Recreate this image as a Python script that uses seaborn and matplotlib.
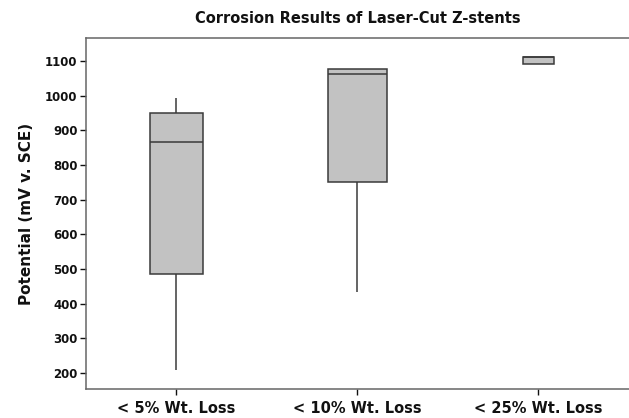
import matplotlib
matplotlib.use("Agg")
import matplotlib.pyplot as plt
import seaborn as sns
import pandas as pd

# Five-number summaries per weight-loss group (min, Q1, median, Q3, max), mV v. SCE
groups = ["< 5% Wt. Loss", "< 10% Wt. Loss", "< 25% Wt. Loss"]
loss_5 = [209, 485, 866, 951, 992]
loss_10 = [434, 750, 1062, 1076, 1076]
loss_25 = [1091, 1091, 1110, 1111, 1111]
box_widths = [0.29, 0.33, 0.175]

sns.set_style("white")
plt.rcParams["font.family"] = ["DejaVu Sans"]
plt.rcParams["text.color"] = "#111111"
plt.rcParams["axes.labelcolor"] = "#111111"
plt.rcParams["xtick.color"] = "#111111"
plt.rcParams["ytick.color"] = "#111111"

fig = plt.figure(figsize=(6.29, 4.18), dpi=100)
ax = fig.add_axes([0.1367, 0.0694, 0.8633, 0.8397])

edge = "#3a3a3a"
for name, vals, w in zip(groups, [loss_5, loss_10, loss_25], box_widths):
    df = pd.DataFrame({"group": [name] * len(vals), "potential": vals})
    sns.boxplot(data=df, x="group", y="potential", order=groups, width=w,
                whis=(0, 100), showcaps=False, showfliers=False,
                color="#c2c2c2", saturation=1, linecolor=edge, linewidth=1.1,
                ax=ax)

ax.set_xlim(-0.5, 2.5)
ax.set_ylim(154, 1166)
ax.set_yticks(range(200, 1101, 100))
ax.set_xlabel("")
ax.set_ylabel("Potential (mV v. SCE)", fontsize=11, fontweight="bold", labelpad=8)
ax.set_title("Corrosion Results of Laser-Cut Z-stents", fontsize=10.5, fontweight="bold", pad=11)

for lab in ax.get_yticklabels():
    lab.set_fontweight("bold")
    lab.set_fontsize(8.5)
for lab in ax.get_xticklabels():
    lab.set_fontweight("bold")
    lab.set_fontsize(10.5)

ax.tick_params(axis="both", which="major", direction="out", length=4, width=1,
               left=True, bottom=True)
for t in ax.xaxis.get_ticklines() + ax.yaxis.get_ticklines():
    t.set_color("#555555")
ax.tick_params(axis="x", pad=5)
ax.tick_params(axis="y", pad=2)

for side in ["left", "bottom", "top"]:
    ax.spines[side].set_color("#666666")
    ax.spines[side].set_linewidth(1.1)
ax.spines["right"].set_visible(False)

fig.savefig("out.png", dpi=100)
